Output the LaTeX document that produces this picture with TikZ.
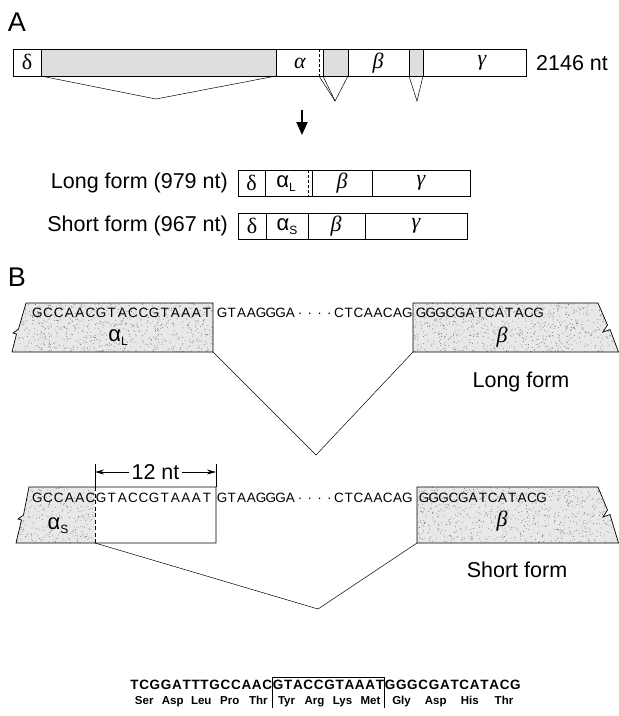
\documentclass[tikz,border=0pt]{standalone}
\usepackage{fontspec}
\setmainfont{Liberation Sans}
\newfontfamily\serifgk{Liberation Serif}
\usetikzlibrary{arrows.meta,calc}
\newcommand\fsz[1]{\fontsize{#1}{#1}\selectfont}
\newcommand\gi[1]{{\serifgk\itshape #1}}
\newlength\seqw
\def\seqloop#1{\ifx#1\relax\else\makebox[\seqw]{#1}\expandafter\seqloop\fi}
\newcommand\seqtext[2]{\setlength\seqw{#1}\seqloop#2\relax}
\begin{document}
\begin{tikzpicture}[x=1pt,y=-1pt,
  lab/.style={font=\fsz{27}, inner sep=0},
  txt/.style={font=\fsz{21.5}, inner sep=0},
  gk/.style={font=\fsz{22}, inner sep=0},
  sq/.style={font=\fsz{13.5}, inner sep=0, anchor=west},
  bar/.style={draw, line width=0.7pt},
  lnk/.style={line width=0.5pt},
  shadeA/.style={fill=black!13},
  bsq/.style={font=\fsz{13.5}\bfseries, inner xsep=0.15pt, inner ysep=0pt, anchor=base west},
  aa/.style={font=\fsz{11.5}\bfseries, inner sep=0, anchor=base},
]
\useasboundingbox (0,0) rectangle (619,716);
\pgfmathsetseed{7}
% ---------------- Part A ----------------
\node[lab] (A) at (17,22) {A};
\fill[shadeA] (41,49) rectangle (276,76);
\fill[shadeA] (323,49) rectangle (348,76);
\fill[shadeA] (409,49) rectangle (423,76);
\draw[bar] (13,49) rectangle (526,76);
\foreach \x in {41,276,323,348,409,423} \draw[bar] (\x,49) -- (\x,76);
\draw[bar, dash pattern=on 3pt off 2pt] (319,49) -- (319,76);
\node[gk] at (27,62) {\serifgk δ};
\node[gk] at (300,63) {\gi{α}};
\node[gk] at (378,63) {\gi{β}};
\node[gk] at (482,63) {\gi{γ}};
\node[txt, anchor=west] (len) at (536,63) {2146 nt};
\coordinate (i1a) at (41,76); \coordinate (i1b) at (156,99); \coordinate (i1c) at (276,76);
\draw[lnk] (i1a) -- (i1b) -- (i1c);
\coordinate (i2a) at (319,76); \coordinate (i2d) at (323,76); \coordinate (i2b) at (335,101); \coordinate (i2c) at (348,76);
\draw[lnk] (i2a) -- (i2b) -- (i2c); \draw[lnk] (i2d) -- (i2b);
\coordinate (i3a) at (409,76); \coordinate (i3b) at (417,101); \coordinate (i3c) at (423,76);
\draw[lnk] (i3a) -- (i3b) -- (i3c);
\coordinate (ar1) at (302,110); \coordinate (ar2) at (302,135);
\draw[line width=2pt, -{Triangle[length=13pt,width=11pt]}] (ar1) -- (ar2);
% long form
\node[txt, anchor=east] (lf) at (228,183) {Long form (979 nt)};
\draw[bar] (238,170) rectangle (470,196);
\foreach \x in {265,312,372} \draw[bar] (\x,170) -- (\x,196);
\draw[bar, dash pattern=on 3pt off 2pt] (308,170) -- (308,196);
\node[gk] at (251.5,183) {\serifgk δ};
\node[gk] at (286,184) {α\raisebox{-0.35ex}{\fsz{12}L}};
\node[gk] at (342,183) {\gi{β}};
\node[gk] at (421,183) {\gi{γ}};
% short form
\node[txt, anchor=east] (sf) at (228,226) {Short form (967 nt)};
\draw[bar] (238,213) rectangle (467,239);
\foreach \x in {266,308,365} \draw[bar] (\x,213) -- (\x,239);
\node[gk] at (252,226) {\serifgk δ};
\node[gk] at (287,227) {α\raisebox{-0.35ex}{\fsz{12}S}};
\node[gk] at (336,226) {\gi{β}};
\node[gk] at (416,226) {\gi{γ}};
% ---------------- Part B ----------------
\node[lab] (B) at (17,277) {B};
% long form left block
\begin{scope}
\clip (26,303) -- (213,303) -- (213,352) -- (12,352) -- (16.5,334) -- (13,333) -- (18.5,329) -- cycle;
\fill[black!9] (0,300) rectangle (220,360);
\foreach \i in {1,...,900} \fill[black!55] ({10+rnd*205},{300+rnd*55}) circle (0.45pt);
\end{scope}
\draw[bar] (26,303) -- (213,303) -- (213,352) -- (12,352) -- (16.5,334) -- (13,333) -- (18.5,329) -- cycle;
% long form right block
\begin{scope}
\clip (413,303) -- (598,303) -- (607.5,325) -- (603,332) -- (610,329.5) -- (619,352) -- (413,352) -- cycle;
\fill[black!9] (410,300) rectangle (619,360);
\foreach \i in {1,...,900} \fill[black!55] ({410+rnd*210},{300+rnd*55}) circle (0.45pt);
\end{scope}
\draw[bar] (413,303) -- (598,303) -- (607.5,325) -- (603,332) -- (610,329.5) -- (618.5,352) -- (413,352) -- cycle;
\node[sq] at (32,313) {\seqtext{10.6pt}{GCCAACGTACCGTAAAT}};
\node[sq] at (217,313) {\seqtext{9.75pt}{GTAAGGGA····CTCAACAG}};
\node[sq] at (416,313) {\seqtext{9.8pt}{GGGCGATCATACG}};
\node[gk] at (118,338) {α\raisebox{-0.35ex}{\fsz{12}L}};
\node[gk] at (502,337) {\gi{β}};
\coordinate (l1) at (213,352); \coordinate (l2) at (316,455); \coordinate (l3) at (413,352);
\draw[lnk] (l1) -- (l2) -- (l3);
\node[txt] (lfB) at (521,382) {Long form};
% short form left block
\begin{scope}
\clip (29,487) -- (95,487) -- (95,543) -- (16,543) -- (21.5,520) -- (18,519) -- (23.5,515) -- cycle;
\fill[black!9] (0,480) rectangle (100,550);
\foreach \i in {1,...,380} \fill[black!55] ({10+rnd*90},{482+rnd*66}) circle (0.45pt);
\end{scope}
\draw[bar] (29,487) -- (216,487) -- (216,543) -- (16,543) -- (21.5,520) -- (18,519) -- (23.5,515) -- cycle;
\draw[bar, dash pattern=on 4pt off 2.5pt] (95,487) -- (95,543);
% short form right block
\begin{scope}
\clip (417,487) -- (598,487) -- (607.5,510) -- (603,517) -- (610,514.5) -- (619,543) -- (417,543) -- cycle;
\fill[black!9] (410,480) rectangle (619,550);
\foreach \i in {1,...,950} \fill[black!55] ({410+rnd*210},{482+rnd*66}) circle (0.45pt);
\end{scope}
\draw[bar] (417,487) -- (598,487) -- (607.5,510) -- (603,517) -- (610,514.5) -- (618.5,543) -- (417,543) -- cycle;
\node[sq] at (32,498) {\seqtext{10.6pt}{GCCAACGTACCGTAAAT}};
\node[sq] at (217,498) {\seqtext{9.75pt}{GTAAGGGA····CTCAACAG}};
\node[sq] at (419,498) {\seqtext{9.8pt}{GGGCGATCATACG}};
\node[gk] at (58,526) {α\raisebox{-0.35ex}{\fsz{12}S}};
\node[gk] at (502,521) {\gi{β}};
% 12 nt
\coordinate (t1) at (95,464); \coordinate (t2) at (216,464);
\draw[bar] (t1) -- (95,487); \draw[bar] (t2) -- (216,487);
\node[txt] (nt) at (155.5,472) {12 nt};
\draw[line width=0.9pt, -{Stealth[length=9pt,width=5pt]}] (nt.west) ++(-2,0) -- (t1 |- nt.west);
\draw[line width=0.9pt, -{Stealth[length=9pt,width=5pt]}] (nt.east) ++(2,0) -- (t2 |- nt.east);
\coordinate (s1) at (95,543); \coordinate (s2) at (318,609); \coordinate (s3) at (417,543);
\draw[lnk] (s1) -- (s2) -- (s3);
\node[txt] (sfB) at (517,570) {Short form};
% ---------------- bottom sequence ----------------
\coordinate (b0) at (130,689);
\foreach \c [count=\i] in {T,C,G,G,A,T,T,T,G,C,C,A,A,C,G,T,A,C,C,G,T,A,A,A,T,G,G,G,C,G,A,T,C,A,T,A,C,G}{
  \pgfmathtruncatemacro\pv{\i-1}
  \ifnum\i=1 \node[bsq] (b\i) at (b0) {\c};
  \else \node[bsq] (b\i) at (b\pv.base east) {\c}; \fi
}
\coordinate (bxl) at ($(b14.east)!0.5!(b15.west)$);
\coordinate (bxr) at ($(b25.east)!0.5!(b26.west)$);
\coordinate (bst) at (b1.base west); \coordinate (ben) at (b38.base east);
\foreach \a [count=\k] in {Ser,Asp,Leu,Pro,Thr}
  \node[aa] (pa\k) at ($(bst)!{(\k-0.5)/5}!(bst -| bxl)+(0,15)$) {\a};
\foreach \a [count=\k] in {Tyr,Arg,Lys,Met}
  \node[aa] (pb\k) at ($(bst -| bxl)!{(\k-0.5)/4}!(bst -| bxr)+(0,15)$) {\a};
\foreach \a [count=\k] in {Gly,Asp,His,Thr}
  \node[aa] (pc\k) at ($(bst -| bxr)!{(\k-0.5)/4}!(ben)+(0,15)$) {\a};
\draw[line width=0.7pt] (bxl |- 0,708) -- (bxl |- 0,677) -- (bxr |- 0,677) -- (bxr |- 0,708);
\end{tikzpicture}
\end{document}
